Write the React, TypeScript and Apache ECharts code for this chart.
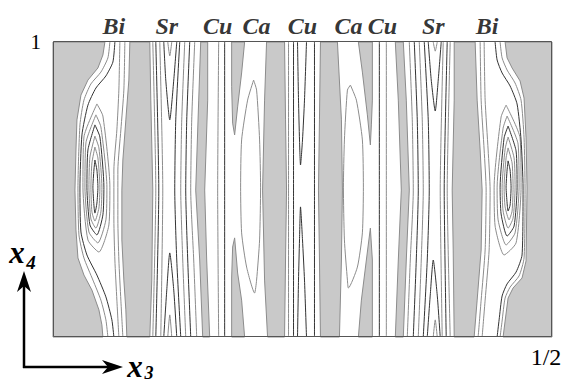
import React, { useEffect, useRef } from "react";
import * as echarts from "echarts";

type Pt = [number, number];

// ---- axis tick labels ----
const xTickValues = [0.5];
const xTickLabels = ["1/2"];
const yTickValues = [1];
const yTickLabels = ["1"];

// ---- atom labels along the top (x3 of each atomic string) ----
const atomNames = ["Bi", "Sr", "Cu", "Ca", "Cu", "Ca", "Cu", "Sr", "Bi"];
const atomX3 = [0.061, 0.114, 0.165, 0.204, 0.25, 0.296, 0.33, 0.381, 0.435];

// ---- grey (below lowest contour) regions, [x3, x4] ----
const greyLeftEdge: Pt[] = [[0, 1], [0.052, 1], [0.05, 0.956], [0.045, 0.912], [0.035, 0.871], [0.028, 0.82], [0.024, 0.736], [0.023, 0.634], [0.022, 0.498], [0.023, 0.363], [0.025, 0.268], [0.031, 0.21], [0.039, 0.159], [0.046, 0.092], [0.049, 0.041], [0.05, 0], [0, 0]];
const greyBiSrLeft: Pt[] = [[0.077, 1], [0.076, 0.871], [0.073, 0.736], [0.07, 0.6], [0.069, 0.498], [0.069, 0.329], [0.071, 0.193], [0.073, 0.092], [0.074, 0], [0.097, 0], [0.099, 0.193], [0.1, 0.498], [0.098, 0.803], [0.097, 1]];
const greySrCuLeft: Pt[] = [[0.148, 1], [0.146, 0.803], [0.143, 0.498], [0.147, 0.261], [0.15, 0], [0.157, 0], [0.154, 0.261], [0.152, 0.498], [0.155, 0.803], [0.155, 1]];
const greyTongueTopL: Pt[] = [[0.179, 1], [0.192, 1], [0.189, 0.895], [0.185, 0.78], [0.182, 0.685], [0.18, 0.725], [0.179, 0.85]];
const greyTongueBotL: Pt[] = [[0.182, 0.336], [0.185, 0.217], [0.189, 0.125], [0.192, 0], [0.179, 0], [0.179, 0.2], [0.18, 0.305]];
const greyCuCaLeft: Pt[] = [[0.214, 1], [0.212, 0.803], [0.21, 0.498], [0.212, 0.193], [0.215, 0], [0.232, 0], [0.233, 0.261], [0.234, 0.498], [0.233, 0.736], [0.232, 1]];
const greyCaCuRight: Pt[] = [[0.268, 1], [0.267, 0.736], [0.266, 0.498], [0.267, 0.261], [0.268, 0], [0.287, 0], [0.289, 0.261], [0.29, 0.498], [0.289, 0.736], [0.285, 1]];
const greyTongueTopR: Pt[] = [[0.306, 1], [0.32, 1], [0.32, 0.803], [0.319, 0.719], [0.318, 0.651], [0.315, 0.753], [0.31, 0.898]];
const greyTongueBotR: Pt[] = [[0.318, 0.369], [0.32, 0.261], [0.32, 0], [0.306, 0], [0.309, 0.125], [0.314, 0.261]];
const greyCuSrRight: Pt[] = [[0.343, 1], [0.346, 0.803], [0.349, 0.498], [0.346, 0.261], [0.343, 0], [0.351, 0], [0.354, 0.261], [0.357, 0.498], [0.354, 0.803], [0.351, 1]];
const greySrBiRight: Pt[] = [[0.402, 1], [0.423, 1], [0.425, 0.803], [0.428, 0.634], [0.43, 0.498], [0.429, 0.295], [0.425, 0.125], [0.422, 0], [0.402, 0], [0.401, 0.295], [0.4, 0.498], [0.402, 0.803]];
const greyRightEdge: Pt[] = [[0.5, 1], [0.5, 0], [0.451, 0], [0.453, 0.054], [0.456, 0.132], [0.461, 0.166], [0.47, 0.2], [0.474, 0.258], [0.475, 0.505], [0.474, 0.675], [0.472, 0.81], [0.468, 0.868], [0.46, 0.912], [0.455, 0.946], [0.453, 1]];

// ---- contour lines, left Bi ----
const biL_o2a: Pt[] = [[0.057, 1], [0.055, 0.946], [0.048, 0.898], [0.038, 0.858], [0.031, 0.803], [0.027, 0.719], [0.025, 0.505], [0.026, 0.346], [0.031, 0.268], [0.04, 0.193], [0.048, 0.125], [0.053, 0.058], [0.055, 0]];
const biL_o3a: Pt[] = [[0.062, 1], [0.06, 0.932], [0.053, 0.885], [0.043, 0.844], [0.035, 0.786], [0.029, 0.685], [0.027, 0.505], [0.028, 0.356], [0.034, 0.278], [0.044, 0.21], [0.053, 0.136], [0.059, 0.058], [0.061, 0]];
const biL_o2b: Pt[] = [[0.072, 1], [0.071, 0.837], [0.068, 0.702], [0.065, 0.566], [0.065, 0.397], [0.066, 0.261], [0.068, 0.125], [0.07, 0]];
const biL_o3b: Pt[] = [[0.067, 1], [0.066, 0.837], [0.064, 0.702], [0.061, 0.566], [0.061, 0.397], [0.062, 0.261], [0.064, 0.125], [0.066, 0]];
const biL_k1: Pt[] = [[0.042, 0.6], [0.044, 0.566], [0.045, 0.508], [0.044, 0.454], [0.042, 0.42], [0.041, 0.447], [0.04, 0.508], [0.041, 0.566], [0.042, 0.6]];
const biL_k2: Pt[] = [[0.042, 0.644], [0.045, 0.607], [0.047, 0.508], [0.046, 0.437], [0.042, 0.393], [0.039, 0.424], [0.038, 0.508], [0.039, 0.59], [0.042, 0.644]];
const biL_k3: Pt[] = [[0.042, 0.681], [0.046, 0.641], [0.049, 0.508], [0.048, 0.424], [0.043, 0.369], [0.038, 0.4], [0.036, 0.508], [0.037, 0.61], [0.042, 0.681]];
const biL_k4: Pt[] = [[0.042, 0.719], [0.047, 0.678], [0.051, 0.508], [0.05, 0.414], [0.044, 0.346], [0.037, 0.38], [0.034, 0.508], [0.035, 0.634], [0.042, 0.719]];
const biL_k5: Pt[] = [[0.043, 0.753], [0.048, 0.712], [0.054, 0.508], [0.053, 0.397], [0.045, 0.319], [0.036, 0.356], [0.032, 0.508], [0.033, 0.658], [0.043, 0.753]];
const biL_k6: Pt[] = [[0.044, 0.79], [0.05, 0.749], [0.057, 0.508], [0.056, 0.38], [0.046, 0.288], [0.035, 0.329], [0.03, 0.508], [0.031, 0.678], [0.044, 0.79]];

// ---- left Sr ----
const srL_a1: Pt[] = [[0.1, 1], [0.103, 0.498], [0.1, 0]];
const srL_a2: Pt[] = [[0.103, 1], [0.106, 0.498], [0.103, 0]];
const srL_a3: Pt[] = [[0.107, 1], [0.11, 0.498], [0.108, 0]];
const srL_vTop: Pt[] = [[0.111, 1], [0.113, 0.871], [0.117, 0.736], [0.121, 0.871], [0.124, 1]];
const srL_vTopSmall: Pt[] = [[0.115, 1], [0.117, 0.953], [0.119, 1]];
const srL_vBot: Pt[] = [[0.111, 0], [0.114, 0.159], [0.117, 0.285], [0.121, 0.159], [0.124, 0]];
const srL_vBotSmall: Pt[] = [[0.115, 0], [0.117, 0.075], [0.119, 0]];
const srL_b1: Pt[] = [[0.127, 1], [0.123, 0.736], [0.122, 0.498], [0.124, 0.261], [0.128, 0]];
const srL_b2: Pt[] = [[0.132, 1], [0.129, 0.736], [0.128, 0.498], [0.13, 0.261], [0.133, 0]];
const srL_b3: Pt[] = [[0.137, 1], [0.134, 0.736], [0.133, 0.498], [0.135, 0.261], [0.138, 0]];
const srL_b4: Pt[] = [[0.142, 1], [0.139, 0.736], [0.138, 0.498], [0.141, 0.261], [0.144, 0]];

// ---- Cu / Ca / Cu centre ----
const cuL_1: Pt[] = [[0.166, 1], [0.165, 0.498], [0.166, 0]];
const cuL_2: Pt[] = [[0.172, 1], [0.172, 0.498], [0.172, 0]];
const caL_lens: Pt[] = [[0.201, 0.871], [0.204, 0.837], [0.207, 0.668], [0.208, 0.508], [0.207, 0.329], [0.204, 0.193], [0.202, 0.149], [0.194, 0.237], [0.189, 0.353], [0.188, 0.508], [0.189, 0.668], [0.195, 0.803], [0.201, 0.871]];
const cuC_1: Pt[] = [[0.236, 1], [0.236, 0.498], [0.236, 0]];
const cuC_2: Pt[] = [[0.241, 1], [0.241, 0.498], [0.241, 0]];
const cuC_vTop: Pt[] = [[0.245, 1], [0.246, 0.803], [0.247, 0.668], [0.248, 0.583], [0.25, 0.668], [0.252, 0.803], [0.254, 1]];
const cuC_vBot: Pt[] = [[0.245, 0], [0.246, 0.193], [0.247, 0.329], [0.248, 0.441], [0.25, 0.329], [0.252, 0.193], [0.254, 0]];
const cuC_3: Pt[] = [[0.262, 1], [0.262, 0.498], [0.262, 0]];
const caR_lens: Pt[] = [[0.298, 0.854], [0.304, 0.803], [0.31, 0.668], [0.311, 0.508], [0.31, 0.353], [0.305, 0.237], [0.296, 0.166], [0.295, 0.193], [0.292, 0.329], [0.291, 0.508], [0.292, 0.668], [0.295, 0.837], [0.298, 0.854]];
const cuR_1: Pt[] = [[0.327, 1], [0.327, 0.498], [0.327, 0]];
const cuR_2: Pt[] = [[0.334, 1], [0.334, 0.498], [0.334, 0]];

// ---- right Sr ----
const srR_b4: Pt[] = [[0.357, 1], [0.36, 0.736], [0.361, 0.498], [0.358, 0.261], [0.355, 0]];
const srR_b3: Pt[] = [[0.362, 1], [0.365, 0.736], [0.366, 0.498], [0.364, 0.261], [0.361, 0]];
const srR_b2: Pt[] = [[0.367, 1], [0.37, 0.736], [0.371, 0.498], [0.369, 0.261], [0.366, 0]];
const srR_b1: Pt[] = [[0.372, 1], [0.376, 0.736], [0.377, 0.498], [0.375, 0.261], [0.371, 0]];
const srR_vTop: Pt[] = [[0.376, 1], [0.379, 0.871], [0.383, 0.766], [0.386, 0.871], [0.389, 1]];
const srR_vTopSmall: Pt[] = [[0.381, 1], [0.383, 0.969], [0.385, 1]];
const srR_vBot: Pt[] = [[0.375, 0], [0.378, 0.142], [0.381, 0.261], [0.385, 0.142], [0.388, 0]];
const srR_vBotSmall: Pt[] = [[0.381, 0], [0.383, 0.058], [0.385, 0]];
const srR_a3: Pt[] = [[0.391, 1], [0.388, 0.498], [0.39, 0]];
const srR_a2: Pt[] = [[0.395, 1], [0.392, 0.498], [0.394, 0]];
const srR_a1: Pt[] = [[0.398, 1], [0.395, 0.498], [0.398, 0]];

// ---- right Bi ----
const biR_o2a: Pt[] = [[0.428, 1], [0.429, 0.803], [0.432, 0.634], [0.434, 0.498], [0.433, 0.295], [0.429, 0.125], [0.426, 0]];
const biR_o3a: Pt[] = [[0.432, 1], [0.433, 0.803], [0.436, 0.634], [0.438, 0.498], [0.437, 0.295], [0.433, 0.125], [0.43, 0]];
const biR_o2b: Pt[] = [[0.448, 1], [0.45, 0.946], [0.455, 0.905], [0.463, 0.861], [0.469, 0.803], [0.472, 0.675], [0.473, 0.505], [0.472, 0.268], [0.467, 0.207], [0.458, 0.169], [0.453, 0.132], [0.45, 0.054], [0.448, 0]];
const biR_o3b: Pt[] = [[0.443, 1], [0.445, 0.939], [0.45, 0.895], [0.458, 0.851], [0.465, 0.79], [0.469, 0.668], [0.471, 0.505], [0.47, 0.278], [0.464, 0.22], [0.455, 0.18], [0.45, 0.139], [0.447, 0.058], [0.445, 0]];
const biR_k1: Pt[] = [[0.456, 0.597], [0.455, 0.566], [0.454, 0.508], [0.455, 0.454], [0.456, 0.427], [0.458, 0.447], [0.459, 0.508], [0.458, 0.566], [0.456, 0.597]];
const biR_k2: Pt[] = [[0.456, 0.641], [0.454, 0.607], [0.452, 0.508], [0.453, 0.441], [0.457, 0.397], [0.46, 0.427], [0.461, 0.508], [0.46, 0.59], [0.456, 0.641]];
const biR_k3: Pt[] = [[0.456, 0.678], [0.453, 0.637], [0.45, 0.508], [0.451, 0.427], [0.456, 0.369], [0.461, 0.403], [0.463, 0.508], [0.462, 0.607], [0.456, 0.678]];
const biR_k4: Pt[] = [[0.456, 0.715], [0.452, 0.675], [0.448, 0.508], [0.449, 0.417], [0.455, 0.342], [0.462, 0.376], [0.465, 0.508], [0.464, 0.631], [0.456, 0.715]];
const biR_k5: Pt[] = [[0.455, 0.749], [0.451, 0.708], [0.445, 0.508], [0.446, 0.397], [0.454, 0.312], [0.463, 0.353], [0.467, 0.508], [0.466, 0.654], [0.455, 0.749]];
const biR_k6: Pt[] = [[0.454, 0.786], [0.449, 0.746], [0.442, 0.508], [0.443, 0.376], [0.452, 0.278], [0.464, 0.319], [0.469, 0.508], [0.468, 0.675], [0.454, 0.786]];

const greyRegions: Pt[][] = [
  greyLeftEdge, greyBiSrLeft, greySrCuLeft, greyTongueTopL, greyTongueBotL, greyCuCaLeft,
  greyCaCuRight, greyTongueTopR, greyTongueBotR, greyCuSrRight, greySrBiRight, greyRightEdge,
];

const lightContours: Pt[][] = [
  biL_o2a, biL_o2b, biL_o3b, biL_k6, biL_k5, biL_k3, biL_k2,
  srL_a1, srL_a3, srL_b2, srL_b4, srL_vTopSmall, srL_vBotSmall,
  cuL_1, caL_lens, cuC_1, caR_lens, cuR_2,
  srR_a1, srR_a3, srR_b2, srR_b4, srR_vTopSmall, srR_vBotSmall,
  biR_o2a, biR_o2b, biR_o3a, biR_k6, biR_k5, biR_k3, biR_k2,
];

const darkContours: Pt[][] = [
  biL_o3a, biL_k4, biL_k1,
  srL_a2, srL_b1, srL_b3, srL_vTop, srL_vBot,
  cuL_2, cuC_2, cuC_vTop, cuC_vBot, cuC_3, cuR_1,
  srR_a2, srR_b1, srR_b3, srR_vTop, srR_vBot,
  biR_o3b, biR_k4, biR_k1,
];

const SERIF = '"Liberation Serif", "Times New Roman", serif';

export default function App() {
  const ref = useRef<HTMLDivElement>(null);

  useEffect(() => {
    const el = ref.current;
    if (!el) return;
    const chart = echarts.init(el, null, { renderer: "svg" });

    const contour = (data: Pt[], color: string) => ({
      type: "line",
      data,
      symbol: "none",
      showSymbol: false,
      smooth: 0.2,
      silent: true,
      z: 3,
      lineStyle: { color, width: 1 },
    });

    const option: any = {
      animation: false,
      grid: { left: 53, top: 42, width: 499, height: 295, show: false },
      xAxis: {
        type: "value",
        min: 0,
        max: 0.5,
        interval: 0.5,
        axisLine: { show: false },
        axisTick: { show: false },
        splitLine: { show: false },
        axisLabel: {
          formatter: (v: number) => {
            const i = xTickValues.indexOf(v);
            return i >= 0 ? xTickLabels[i] : "";
          },
          color: "#000",
          fontFamily: SERIF,
          fontSize: 24,
          margin: 8,
          padding: [0, 12, 0, 0],
        },
      },
      yAxis: {
        type: "value",
        min: 0,
        max: 1,
        interval: 1,
        axisLine: { show: false },
        axisTick: { show: false },
        splitLine: { show: false },
        axisLabel: {
          formatter: (v: number) => {
            const i = yTickValues.indexOf(v);
            return i >= 0 ? yTickLabels[i] : "";
          },
          color: "#000",
          fontFamily: SERIF,
          fontSize: 21,
          margin: 12,
          padding: [6, 0, 0, 0],
        },
      },
      series: [
        {
          type: "custom",
          silent: true,
          z: 1,
          data: greyRegions.map((r) => r[0]),
          renderItem: (params: any, api: any) => {
            const poly = greyRegions[params.dataIndex];
            return {
              type: "polygon",
              shape: { points: poly.map((p) => api.coord(p)) },
              style: { fill: "#c9c9c9", stroke: "#8c8c8c", lineWidth: 1 },
            };
          },
        },
        ...lightContours.map((d) => contour(d, "#8c8c8c")),
        ...darkContours.map((d) => contour(d, "#333333")),
        {
          type: "scatter",
          silent: true,
          z: 6,
          symbolSize: 1,
          itemStyle: { color: "rgba(0,0,0,0)" },
          data: atomX3.map((x, i) => ({ value: [x, 1], name: atomNames[i] })),
          label: {
            show: true,
            position: "inside",
            offset: [0, -16],
            formatter: (p: any) => p.name,
            fontFamily: SERIF,
            fontStyle: "italic",
            fontWeight: "bold",
            fontSize: 24,
            color: "#000",
          },
        },
      ],
      graphic: [
        {
          type: "rect",
          z: 20,
          silent: true,
          shape: { x: 53.5, y: 41.5, width: 498, height: 295 },
          style: { fill: "none", stroke: "#555", lineWidth: 1 },
        },
        {
          type: "line",
          z: 20,
          shape: { x1: 24, y1: 368, x2: 24, y2: 284 },
          style: { stroke: "#000", lineWidth: 2.5 },
        },
        {
          type: "polygon",
          z: 20,
          shape: { points: [[24, 271], [31, 292], [24, 286], [17, 292]] },
          style: { fill: "#000" },
        },
        {
          type: "line",
          z: 20,
          shape: { x1: 23, y1: 367, x2: 110, y2: 367 },
          style: { stroke: "#000", lineWidth: 2.5 },
        },
        {
          type: "polygon",
          z: 20,
          shape: { points: [[123, 367], [102, 360], [108, 367], [102, 374]] },
          style: { fill: "#000" },
        },
        {
          type: "text",
          z: 20,
          x: 17,
          y: 252,
          style: { text: "x", font: `italic bold 31px ${SERIF}`, fill: "#000", align: "center", verticalAlign: "middle" },
        },
        {
          type: "text",
          z: 20,
          x: 31,
          y: 262,
          style: { text: "4", font: `italic bold 19px ${SERIF}`, fill: "#000", align: "center", verticalAlign: "middle" },
        },
        {
          type: "text",
          z: 20,
          x: 135,
          y: 366,
          style: { text: "x", font: `italic bold 31px ${SERIF}`, fill: "#000", align: "center", verticalAlign: "middle" },
        },
        {
          type: "text",
          z: 20,
          x: 149,
          y: 373,
          style: { text: "3", font: `italic bold 18px ${SERIF}`, fill: "#000", align: "center", verticalAlign: "middle" },
        },
      ],
    };

    chart.setOption(option);
    return () => chart.dispose();
  }, []);

  return (
    <div
      ref={ref}
      style={{ position: "fixed", left: 0, top: 0, width: 567, height: 383, background: "#fff" }}
    />
  );
}
